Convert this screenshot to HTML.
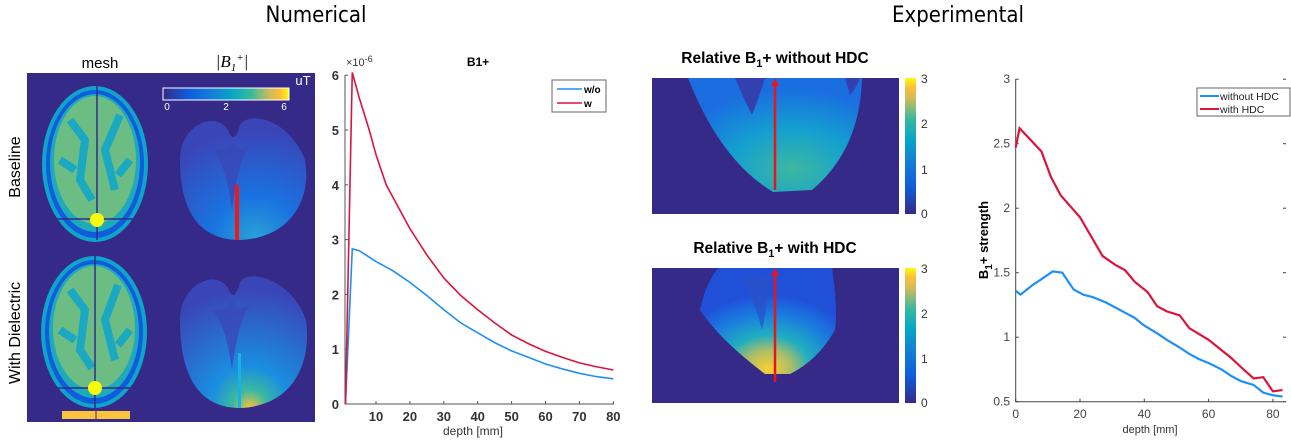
<!DOCTYPE html>
<html><head><meta charset="utf-8">
<style>
body{margin:0;background:#fff;width:1291px;height:440px;overflow:hidden;font-family:"Liberation Sans",sans-serif;}
svg{position:absolute;left:0;top:0}
</style></head>
<body>
<svg width="1291" height="440" xmlns="http://www.w3.org/2000/svg">
<defs>
<linearGradient id="parula" x1="0" x2="1" y1="0" y2="0">
<stop offset="0" stop-color="#352a87"/><stop offset="0.2" stop-color="#0f5cdd"/><stop offset="0.4" stop-color="#1481d6"/><stop offset="0.55" stop-color="#06a7c6"/><stop offset="0.7" stop-color="#38b99e"/><stop offset="0.85" stop-color="#d1bb59"/><stop offset="0.93" stop-color="#fcbf3a"/><stop offset="1" stop-color="#f9fb0e"/>
</linearGradient>
<linearGradient id="parulaV" x1="0" x2="0" y1="1" y2="0">
<stop offset="0" stop-color="#352a87"/><stop offset="0.2" stop-color="#0f5cdd"/><stop offset="0.4" stop-color="#1481d6"/><stop offset="0.55" stop-color="#06a7c6"/><stop offset="0.7" stop-color="#38b99e"/><stop offset="0.85" stop-color="#d1bb59"/><stop offset="0.93" stop-color="#fcbf3a"/><stop offset="1" stop-color="#f9fb0e"/>
</linearGradient>
<radialGradient id="fieldA" cx="0.6" cy="1" r="0.9">
<stop offset="0" stop-color="#28a4d8"/><stop offset="0.4" stop-color="#1a72e0"/><stop offset="1" stop-color="#3a46b8"/>
</radialGradient>
<radialGradient id="fieldB" cx="0.55" cy="1" r="0.9">
<stop offset="0" stop-color="#fcc23a"/><stop offset="0.15" stop-color="#3cb9a0"/><stop offset="0.35" stop-color="#1a8ee0"/><stop offset="1" stop-color="#3a46b8"/>
</radialGradient>
<radialGradient id="expA" cx="0.6" cy="0.8" r="0.7">
<stop offset="0" stop-color="#3db89f"/><stop offset="0.5" stop-color="#14a0d0"/><stop offset="1" stop-color="#1a6ee0"/>
</radialGradient>
<radialGradient id="expB" cx="0.5" cy="0.95" r="0.7">
<stop offset="0" stop-color="#fcd030"/><stop offset="0.25" stop-color="#a8bd6a"/><stop offset="0.45" stop-color="#20aec0"/><stop offset="0.75" stop-color="#1a7ae0"/><stop offset="1" stop-color="#2050d8"/>
</radialGradient>
</defs>

<text x="316" y="22" font-size="22" text-anchor="middle" font-family="DejaVu Sans Condensed, Liberation Sans, sans-serif">Numerical</text>
<text x="958" y="22" font-size="22" text-anchor="middle" font-family="DejaVu Sans Condensed, Liberation Sans, sans-serif">Experimental</text>

<g>
<text x="100" y="68" font-size="15" text-anchor="middle">mesh</text>
<text x="232" y="67" font-size="17" text-anchor="middle" font-family="Liberation Serif, serif" font-style="italic">|B<tspan font-size="11" dy="4">1</tspan><tspan font-size="11" dy="-10">+</tspan><tspan dy="6">|</tspan></text>
<rect x="27" y="73" width="288" height="349" fill="#352a87"/>
<g>
<ellipse cx="95" cy="164" rx="53" ry="78" fill="#0fa4c9"/>
<ellipse cx="95" cy="164" rx="49" ry="74" fill="#0f5cdd"/>
<ellipse cx="95" cy="163" rx="45" ry="69" fill="#1eaabb"/>
<ellipse cx="95" cy="160" rx="41" ry="64" fill="#6cbd84"/>
<path d="M70 120 L85 140 L80 180 L92 200 M120 115 L105 150 L115 190 M60 160 L75 170 M130 160 L118 175" stroke="#1aa8c2" stroke-width="8" fill="none"/>
<line x1="97" y1="86" x2="97" y2="240" stroke="#352a87" stroke-width="1.5"/>
<line x1="52" y1="219" x2="140" y2="219" stroke="#352a87" stroke-width="1.5"/>
<circle cx="97" cy="220" r="7" fill="#f9fb0e"/>
</g>
<g>
<ellipse cx="94" cy="332" rx="53" ry="76" fill="#0fa4c9"/>
<ellipse cx="94" cy="332" rx="49" ry="72" fill="#0f5cdd"/>
<ellipse cx="94" cy="331" rx="45" ry="67" fill="#1eaabb"/>
<ellipse cx="94" cy="328" rx="41" ry="62" fill="#6cbd84"/>
<path d="M70 290 L85 310 L80 350 L92 368 M118 285 L105 320 L115 360 M60 330 L75 340 M130 330 L118 345" stroke="#1aa8c2" stroke-width="8" fill="none"/>
<line x1="95" y1="256" x2="95" y2="420" stroke="#352a87" stroke-width="1.5"/>
<line x1="51" y1="388" x2="138" y2="388" stroke="#352a87" stroke-width="1.5"/>
<circle cx="95" cy="388" r="7" fill="#f9fb0e"/>
<rect x="62" y="411" width="68" height="8" fill="#fcc23a"/>
<line x1="96" y1="411" x2="96" y2="419" stroke="#352a87"/>
</g>
<path d="M180 160 C180 125 215 110 228 130 C232 140 236 140 240 125 C250 110 290 120 305 160 C312 200 290 238 240 240 C195 240 180 205 180 160 Z" fill="url(#fieldA)"/>
<path d="M212 150 C222 160 228 180 232 210 C236 180 240 160 250 145 C240 150 235 150 232 140 C228 150 220 150 212 150 Z" fill="#3a48b8" opacity="0.8"/>
<rect x="235" y="185" width="4" height="55" fill="#f01818"/>
<path d="M180 320 C180 285 215 268 228 288 C232 298 236 298 240 282 C250 268 292 280 306 320 C312 365 292 406 240 408 C195 408 180 370 180 320 Z" fill="url(#fieldB)"/>
<path d="M212 310 C222 320 228 340 232 370 C236 340 240 320 250 305 C240 310 235 310 232 300 C228 310 220 310 212 310 Z" fill="#3a48b8" opacity="0.8"/>
<rect x="238" y="353" width="3" height="55" fill="#1ab0e8"/>
<rect x="163" y="88" width="126" height="12" fill="url(#parula)" stroke="#fff"/>
<text x="167" y="110" font-size="10" fill="#fff" text-anchor="middle">0</text>
<text x="226" y="110" font-size="10" fill="#fff" text-anchor="middle">2</text>
<text x="284" y="110" font-size="10" fill="#fff" text-anchor="middle">6</text>
<text x="303" y="85" font-size="13" fill="#fff" text-anchor="middle">uT</text>
<text transform="translate(20,167) rotate(-90)" font-size="16" text-anchor="middle">Baseline</text>
<text transform="translate(20,333) rotate(-90)" font-size="16" text-anchor="middle">With Dielectric</text>
</g>

<g>
<text x="775" y="63" font-size="15.5" font-weight="bold" text-anchor="middle">Relative B<tspan font-size="11" dy="4">1</tspan><tspan dy="-4">+ without HDC</tspan></text>
<rect x="652" y="78" width="247" height="136" fill="#352a87"/>
<path d="M688 78 L862 78 Q860 150 812 190 L773 192 Q720 160 688 78 Z" fill="url(#expA)"/>
<path d="M735 78 L765 78 Q758 100 752 115 Q742 95 735 78 Z M845 78 L860 78 Q856 88 850 95 Z" fill="#3440b0"/>
<path d="M775 190 L775 84" stroke="#e8141e" stroke-width="2.5"/><path d="M771 86 L775 78 L779 86 Z" fill="#e8141e"/>
<rect x="905" y="78" width="11" height="136" fill="url(#parulaV)"/>
<g font-size="12" fill="#333"><text x="921" y="83">3</text><text x="921" y="128">2</text><text x="921" y="174">1</text><text x="921" y="218">0</text></g>

<text x="775" y="253" font-size="15.5" font-weight="bold" text-anchor="middle">Relative B<tspan font-size="11" dy="4">1</tspan><tspan dy="-4">+ with HDC</tspan></text>
<rect x="652" y="268" width="247" height="135" fill="#352a87"/>
<path d="M718 268 L832 268 Q838 310 835 330 Q818 360 790 374 L765 374 Q720 340 700 310 Q705 285 718 268 Z" fill="url(#expB)"/>
<path d="M740 280 Q755 300 762 330 Q768 300 772 275 Z" fill="#2a50c8" opacity="0.7"/>
<path d="M775 382 L775 274" stroke="#e8141e" stroke-width="2.5"/><path d="M771 276 L775 268 L779 276 Z" fill="#e8141e"/>
<rect x="905" y="268" width="11" height="135" fill="url(#parulaV)"/>
<g font-size="12" fill="#333"><text x="921" y="273">3</text><text x="921" y="318">2</text><text x="921" y="363">1</text><text x="921" y="407">0</text></g>
</g>

<g id="chart1"></g>
<g id="chart2"></g>
</svg>

<script>
const numX = [1,3,5,8,10,13,20,25,30,35,40,45,50,55,60,65,70,75,80];
const numW = [0,6.05,5.6,5.0,4.55,4.0,3.2,2.72,2.3,1.98,1.72,1.48,1.26,1.1,0.96,0.85,0.75,0.68,0.62];
const numWoX = [1,3,5,10,15,20,25,30,35,40,45,50,55,60,65,70,75,80];
const numWo = [0,2.83,2.8,2.6,2.43,2.22,1.98,1.72,1.48,1.3,1.12,0.97,0.85,0.73,0.64,0.56,0.5,0.46];
const numXTicks = [10,20,30,40,50,60,70,80];
const numYTicks = [0,1,2,3,4,5,6];

const expWX = [0,1.2,5,8,11,14,20,27,31,34,37,41,44,47,51,54,60,67,70,74,77,80,83];
const expW = [2.47,2.62,2.52,2.44,2.24,2.1,1.93,1.63,1.56,1.52,1.43,1.35,1.24,1.2,1.17,1.07,0.98,0.84,0.77,0.68,0.69,0.58,0.59];
const expWoX = [0,1.5,5,8,11.5,14.5,18,21,24,28,31,34,37,40,44,47,51,54,57,60,64,67,70,74,77,80,83];
const expWo = [1.36,1.33,1.4,1.45,1.51,1.5,1.37,1.33,1.31,1.27,1.23,1.19,1.15,1.09,1.03,0.98,0.92,0.87,0.83,0.8,0.75,0.7,0.66,0.63,0.57,0.55,0.54];
const expXTicks = [0,20,40,60,80];
const expYTicks = ['0.5','1','1.5','2','2.5','3'];

const NS='http://www.w3.org/2000/svg';
function mk(tag, attrs, parent){const e=document.createElementNS(NS,tag);for(const k in attrs)e.setAttribute(k,attrs[k]);parent.appendChild(e);return e;}

(function(){
 const g=document.getElementById('chart1');
 const x=v=>342.1+v*3.39, y=v=>404-v*54.8;
 const ax=mk('path',{d:`M345 75 L345 404 L614 404`,stroke:'#555',fill:'none','stroke-width':1},g);
 
 
 numYTicks.forEach(t=>{
  mk('line',{x1:345,x2:348,y1:y(t),y2:y(t),stroke:'#555'},g);
  const tx=mk('text',{x:339,y:y(t)+5,'font-size':13,'font-weight':'bold','text-anchor':'end',fill:'#333'},g);tx.textContent=t;
  
  
 });
 numXTicks.forEach(t=>{
  mk('line',{x1:x(t),x2:x(t),y1:404,y2:401,stroke:'#555'},g);
  const tx=mk('text',{x:x(t),y:421,'font-size':13,'font-weight':'bold','text-anchor':'middle',fill:'#333'},g);tx.textContent=t;
  
  
 });
 const ex=mk('text',{x:346,y:66,'font-size':11,fill:'#333'},g);ex.innerHTML='×10<tspan dy="-4" font-size="9">-6</tspan>';
 
 
 const ti=mk('text',{x:478,y:66,'font-size':12,'font-weight':'bold','text-anchor':'middle'},g);ti.textContent='B1+';
 
 
 const xl=mk('text',{x:473,y:435,'font-size':12,'text-anchor':'middle',fill:'#333'},g);xl.textContent='depth [mm]';
 
 
 const l1=mk('polyline',{points:numWoX.map((v,i)=>x(v)+','+y(numWo[i])).join(' '),fill:'none',stroke:'#1e90f5','stroke-width':1.6},g);
 
 
 const l2=mk('polyline',{points:numX.map((v,i)=>x(v)+','+y(numW[i])).join(' '),fill:'none',stroke:'#dc143c','stroke-width':1.6},g);
 
 
 const lg=mk('g',{},g);
 
 
 mk('rect',{x:552,y:80,width:54,height:32,fill:'#fff',stroke:'#666'},lg);
 mk('line',{x1:557,x2:582,y1:89,y2:89,stroke:'#1e90f5','stroke-width':1.6},lg);
 mk('line',{x1:557,x2:582,y1:103,y2:103,stroke:'#dc143c','stroke-width':1.6},lg);
 const t1=mk('text',{x:584,y:93,'font-size':10,'font-weight':'bold'},lg);t1.textContent='w/o';
 const t2=mk('text',{x:584,y:107,'font-size':10,'font-weight':'bold'},lg);t2.textContent='w';
})();

(function(){
 const g=document.getElementById('chart2');
 const x=v=>1015.7+v*3.215, y=v=>401.7-(v-0.5)*129;
 const ax=mk('path',{d:`M1015.7 79 L1015.7 401.7 L1286 401.7`,stroke:'#444',fill:'none'},g);
 
 
 expYTicks.forEach(t=>{
  const v=parseFloat(t);
  mk('line',{x1:1015.7,x2:1018.7,y1:y(v),y2:y(v),stroke:'#444'},g);
  mk('line',{x1:1283,x2:1286,y1:y(v),y2:y(v),stroke:'#444'},g);
  const tx=mk('text',{x:1010,y:y(v)+4,'font-size':12,'text-anchor':'end',fill:'#444'},g);tx.textContent=t;
  
  
 });
 expXTicks.forEach(t=>{
  mk('line',{x1:x(t),x2:x(t),y1:401.7,y2:398.7,stroke:'#444'},g);
  const tx=mk('text',{x:x(t),y:418,'font-size':12,'text-anchor':'middle',fill:'#444'},g);tx.textContent=t;
  
  
 });
 const xl=mk('text',{x:1150,y:433,'font-size':11,'text-anchor':'middle',fill:'#333'},g);xl.textContent='depth [mm]';
 
 
 const yl=mk('text',{transform:'translate(988,240) rotate(-90)','font-size':13,'font-weight':'bold','text-anchor':'middle'},g);
 yl.innerHTML='B<tspan font-size="10" dy="4">1</tspan><tspan dy="-4">+ strength</tspan>';
 
 
 const l1=mk('polyline',{points:expWoX.map((v,i)=>x(v)+','+y(expWo[i])).join(' '),fill:'none',stroke:'#1e90f5','stroke-width':2.2},g);
 
 
 const l2=mk('polyline',{points:expWX.map((v,i)=>x(v)+','+y(expW[i])).join(' '),fill:'none',stroke:'#dc143c','stroke-width':2.2},g);
 
 
 const lg=mk('g',{},g);
 
 
 mk('rect',{x:1197,y:88,width:93,height:28,fill:'#fff',stroke:'#666'},lg);
 mk('line',{x1:1200,x2:1219,y1:96,y2:96,stroke:'#1e90f5','stroke-width':2},lg);
 mk('line',{x1:1200,x2:1219,y1:109,y2:109,stroke:'#dc143c','stroke-width':2},lg);
 const t1=mk('text',{x:1220,y:100,'font-size':10.5,fill:'#222'},lg);t1.textContent='without HDC';
 const t2=mk('text',{x:1220,y:113,'font-size':10.5,fill:'#222'},lg);t2.textContent='with HDC';
})();
</script>
</body></html>
